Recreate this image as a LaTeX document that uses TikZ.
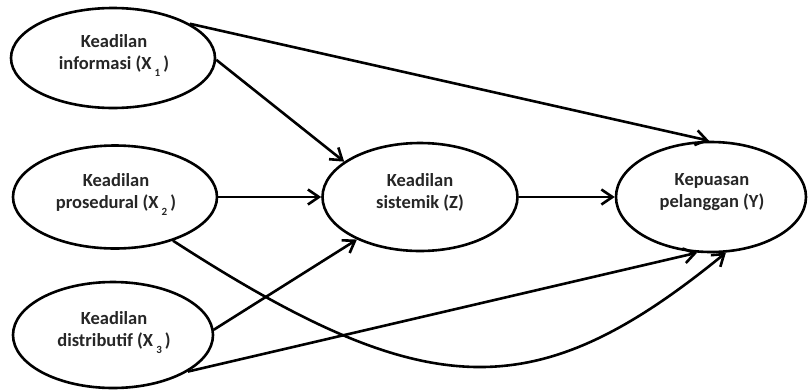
\documentclass[tikz,border=0pt]{standalone}
\usepackage{fontspec}
\setmainfont{Carlito}
\usetikzlibrary{shapes.geometric,arrows.meta}
\newcommand\sbs[1]{\,\raisebox{-7pt}{\fontsize{11}{11}\selectfont #1}\,}
\begin{document}
\begin{tikzpicture}[x=1pt,y=-1pt,
  ell/.style={ellipse,draw,line width=2.6pt,inner sep=0pt},
  lbl/.style={align=center,inner sep=0pt,text=black!85,font=\fontsize{18.5}{22}\selectfont\bfseries},
  arr/.style={line width=2.6pt,-{Straight Barb[length=11pt,width=15pt,line width=2.6pt]}}
]
\useasboundingbox (0,0) rectangle (808,389);
\fill[white] (0,0) rectangle (808,389);
\node[ell,minimum width=204pt,minimum height=100pt] (X1) at (113,58) {};
\node[ell,minimum width=204pt,minimum height=103pt] (X2) at (115,197) {};
\node[ell,minimum width=200pt,minimum height=106pt] (X3) at (113,335) {};
\node[ell,minimum width=195pt,minimum height=108pt] (Z) at (420,197) {};
\node[ell,minimum width=190pt,minimum height=110pt] (Y) at (711,197) {};
\node[lbl] (t1) at (114,56) {Keadilan\\informasi (X\sbs{1})};
\node[lbl] (t2) at (116,195) {Keadilan\\prosedural (X\sbs{2})};
\node[lbl] (t3) at (114,333) {Keadilan\\distributif (X\sbs{3})};
\node[lbl] (tz) at (420,192) {Keadilan\\sistemik (Z)};
\node[lbl] (ty) at (712,192) {Kepuasan\\pelanggan (Y)};
\draw[arr] (X1.24) -- (Y.92);
\draw[arr] (X1.-1) -- (Z.155);
\draw[arr] (X2.east) -- (Z.west);
\draw[arr] (Z.east) -- (Y.west);
\draw[arr] (X3.3) -- (Z.-146);
\draw[arr] (X3.-26) -- (Y.-104);
\draw[arr] (X2.-37) .. controls +(255,165) and +(-190,155) .. (Y.-75);
\end{tikzpicture}
\end{document}
